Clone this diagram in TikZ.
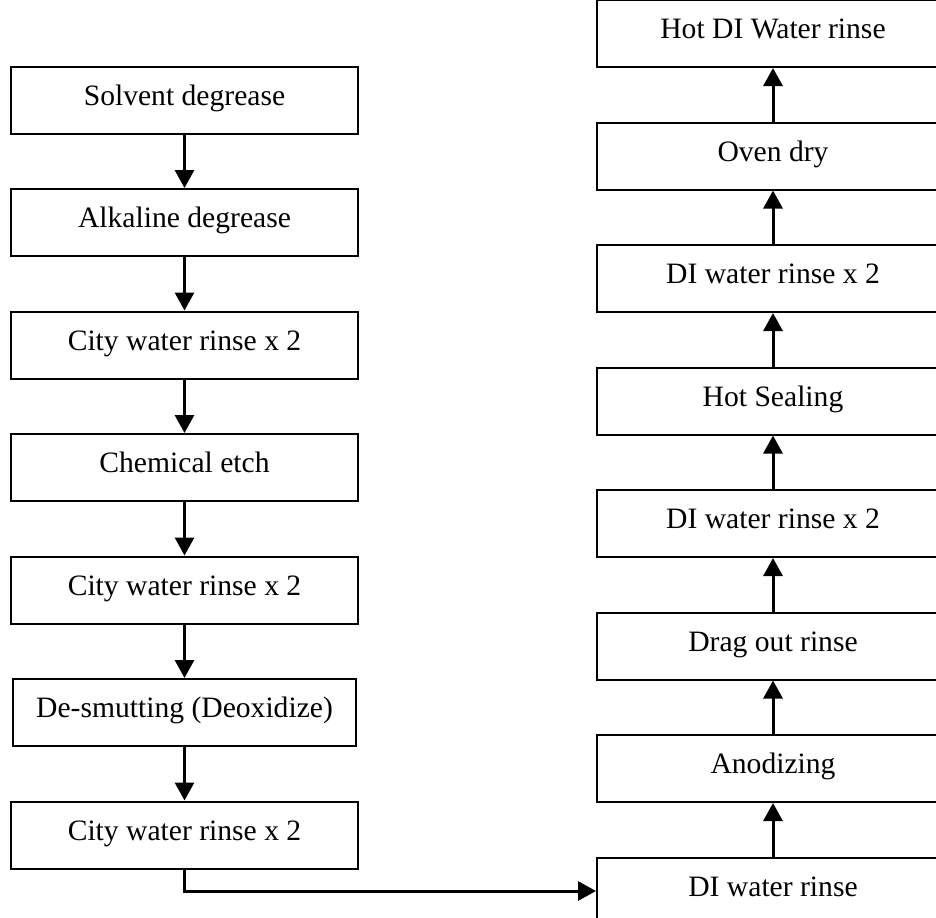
\documentclass[tikz,border=0pt]{standalone}
\usepackage{fontspec}
\setmainfont{Liberation Serif}
\usetikzlibrary{positioning,arrows.meta}

\begin{document}
\begin{tikzpicture}[
    stage/.style={draw, line width=1pt, inner sep=0pt,
        minimum height=33.5pt, text height=10.4pt, text depth=5.2pt,
        font=\fontsize{14.8pt}{17pt}\selectfont},
    left stage/.style={stage, minimum width=173.5pt},
    right stage/.style={stage, minimum width=176pt},
    flow/.style={-{Triangle[length=9pt,width=9.5pt]}, line width=1.5pt},
    node distance=26.75pt]
    \useasboundingbox (0,0) rectangle (468pt,-458.5pt);
    \clip (0,0) rectangle (468pt,-458.5pt);

    % pretreatment, top to bottom
    \node[left stage] (l1) at (92.25pt,-50pt) {Solvent degrease};
    \node[left stage, below=of l1] (l2) {Alkaline degrease};
    \node[left stage, below=of l2] (l3) {City water rinse x 2};
    \node[left stage, below=of l3] (l4) {Chemical etch};
    \node[left stage, below=of l4] (l5) {City water rinse x 2};
    \node[left stage, below=of l5, minimum width=171.5pt] (l6) {De-smutting (Deoxidize)};
    \node[left stage, below=of l6] (l7) {City water rinse x 2};

    % anodizing line, bottom to top
    \node[right stage] (r1) at (386.5pt,-445.5pt) {DI water rinse};
    \node[right stage, above=of r1] (r2) {Anodizing};
    \node[right stage, above=of r2] (r3) {Drag out rinse};
    \node[right stage, above=of r3] (r4) {DI water rinse x 2};
    \node[right stage, above=of r4] (r5) {Hot Sealing};
    \node[right stage, above=of r5] (r6) {DI water rinse x 2};
    \node[right stage, above=of r6] (r7) {Oven dry};
    \node[right stage, above=of r7] (r8) {Hot DI Water rinse};

    \foreach \a/\b in {l1/l2,l2/l3,l3/l4,l4/l5,l5/l6,l6/l7,
        r1/r2,r2/r3,r3/r4,r4/r5,r5/r6,r6/r7,r7/r8}
        \draw[flow] (\a) -- (\b);
    \draw[flow] (l7.south) |- (r1.west);

\end{tikzpicture}
\end{document}
